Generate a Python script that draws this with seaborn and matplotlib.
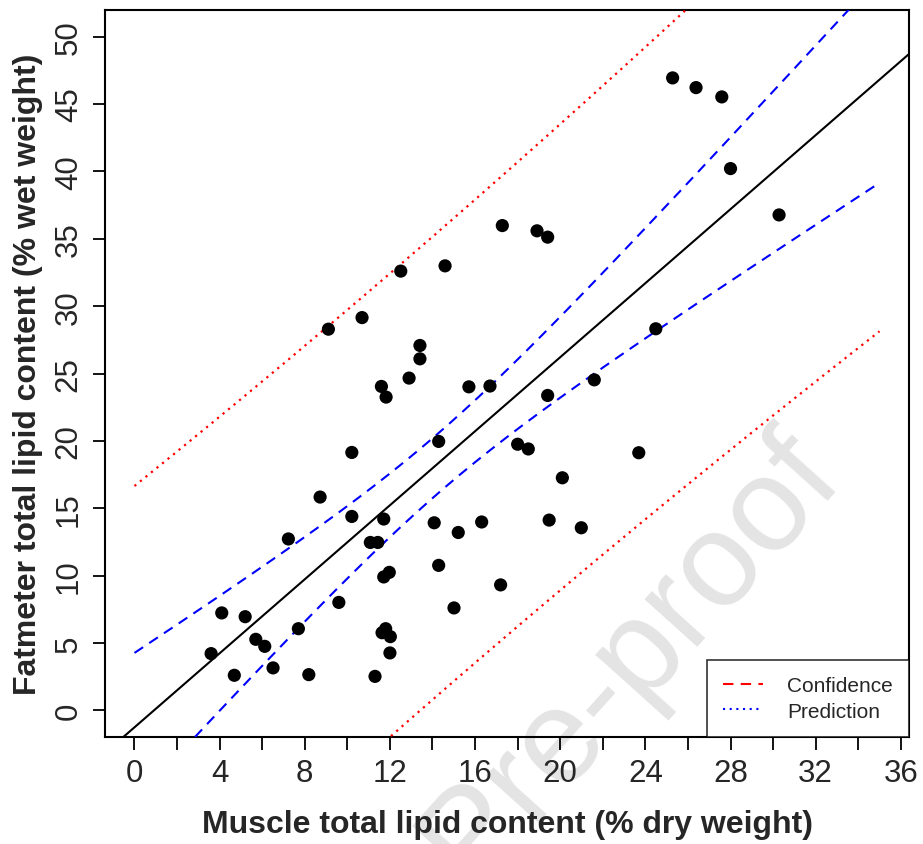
import numpy as np
import pandas as pd
import matplotlib
matplotlib.use("Agg")
import matplotlib.pyplot as plt
from matplotlib.lines import Line2D
import seaborn as sns

# ---- data ----
muscle_lipid = [25.28, 26.38, 27.59, 28.00, 30.28, 17.28, 18.91, 19.41, 12.51, 14.59,
                10.69, 9.11, 13.41, 13.41, 12.90, 11.60, 11.82, 15.71, 16.70, 19.41,
                24.49, 21.60, 14.29, 10.21, 18.00, 18.50, 23.69, 20.10, 8.72, 10.21,
                11.71, 11.08, 11.43, 14.08, 15.21, 16.31, 19.48, 20.99, 11.71, 11.97,
                14.29, 17.20, 15.01, 9.60, 4.10, 5.20, 7.70, 5.70, 6.12, 11.80,
                11.63, 12.02, 12.00, 3.60, 4.69, 6.51, 8.19, 11.30, 7.23]
fatmeter_lipid = [46.94, 46.22, 45.53, 40.21, 36.77, 35.98, 35.59, 35.12, 32.60, 32.99,
                  29.15, 28.29, 27.08, 26.09, 24.66, 24.04, 23.25, 24.01, 24.07, 23.37,
                  28.32, 24.53, 19.96, 19.14, 19.75, 19.40, 19.12, 17.26, 15.83, 14.39,
                  14.20, 12.46, 12.46, 13.92, 13.20, 13.98, 14.12, 13.55, 9.90, 10.24,
                  10.76, 9.31, 7.60, 8.01, 7.23, 6.95, 6.06, 5.27, 4.75, 6.06,
                  5.76, 5.47, 4.26, 4.21, 2.60, 3.15, 2.65, 2.52, 12.72]
x_ticks = list(range(0, 37, 2))
x_tick_labels = [str(v) if v % 4 == 0 else "" for v in x_ticks]
y_ticks = list(range(0, 51, 5))
band_x_range = (0, 35)
legend_labels = ["Confidence", "Prediction"]
T_CRIT = 2.002  # t(0.975, df = n - 2)

df = pd.DataFrame({"muscle": muscle_lipid, "fatmeter": fatmeter_lipid})

# ---- ordinary least squares fit with bands ----
x = df["muscle"].to_numpy()
y = df["fatmeter"].to_numpy()
n = len(x)
slope, intercept = np.polyfit(x, y, 1)
resid = y - (intercept + slope * x)
s = np.sqrt(np.sum(resid ** 2) / (n - 2))
xm = x.mean()
sxx = np.sum((x - xm) ** 2)
xg = np.linspace(band_x_range[0], band_x_range[1], 200)
yg = intercept + slope * xg
se_mean = s * np.sqrt(1.0 / n + (xg - xm) ** 2 / sxx)
se_pred = s * np.sqrt(1.0 + 1.0 / n + (xg - xm) ** 2 / sxx)

sns.set_style("white")
plt.rcParams["font.family"] = ["Liberation Sans", "DejaVu Sans"]

fig = plt.figure(figsize=(9.23, 8.45), dpi=100)
ax = fig.add_axes([0.1134, 0.1263, 0.8718, 0.8610])
ax.set_facecolor("none")

# watermark (behind everything)
fig.text(0.683, 0.222, "Pre-proof", fontsize=96, color="#e4e4e4",
         rotation=48, ha="center", va="center", rotation_mode="anchor", zorder=-1)

sns.scatterplot(data=df, x="muscle", y="fatmeter", ax=ax, color="black", s=90,
                edgecolor="none", linewidth=0, zorder=5, legend=False)

ax.axline((0, intercept), slope=slope, color="black", lw=1.5, zorder=3)
ax.plot(xg, yg + T_CRIT * se_pred, color="#ff0000", lw=1.6, ls=(0, (1, 2.2)), zorder=3)
ax.plot(xg, yg - T_CRIT * se_pred, color="#ff0000", lw=1.6, ls=(0, (1, 2.2)), zorder=3)
ax.plot(xg, yg + T_CRIT * se_mean, color="#0000ff", lw=1.5, ls=(0, (5, 3.5)), zorder=3)
ax.plot(xg, yg - T_CRIT * se_mean, color="#0000ff", lw=1.5, ls=(0, (5, 3.5)), zorder=3)

ax.set_xlim(-1.4, 36.4)
ax.set_ylim(-2, 52)
ax.set_xticks(x_ticks)
ax.set_xticklabels(x_tick_labels, fontsize=22.5)
ax.set_yticks(y_ticks)
ax.set_yticklabels([str(v) for v in y_ticks], fontsize=22.5, rotation=90, va="center")
ax.tick_params(axis="both", direction="out", length=9, width=1.3, color="black",
               bottom=True, left=True, pad=6)
for sp in ax.spines.values():
    sp.set_color("black")
    sp.set_linewidth(1.5)

ax.set_xlabel("Muscle total lipid content (% dry weight)", fontsize=23,
              fontweight="bold", labelpad=15)
ax.set_ylabel("Fatmeter total lipid content (% wet weight)", fontsize=23,
              fontweight="bold", labelpad=8)

handles = [Line2D([], [], color="#ff0000", lw=1.5, ls=(0, (5, 3.5))),
           Line2D([], [], color="#0000ff", lw=1.5, ls=(0, (1, 2.2)))]
leg = ax.legend(handles, legend_labels, loc="lower right",
                fontsize=15, frameon=True, fancybox=False, borderaxespad=0,
                handlelength=1.9, handletextpad=1.15, borderpad=0.8,
                labelspacing=0.3)
leg.get_frame().set_edgecolor("black")
leg.get_frame().set_linewidth(1.2)
leg.set_zorder(6)

fig.savefig("out.png", dpi=100)
